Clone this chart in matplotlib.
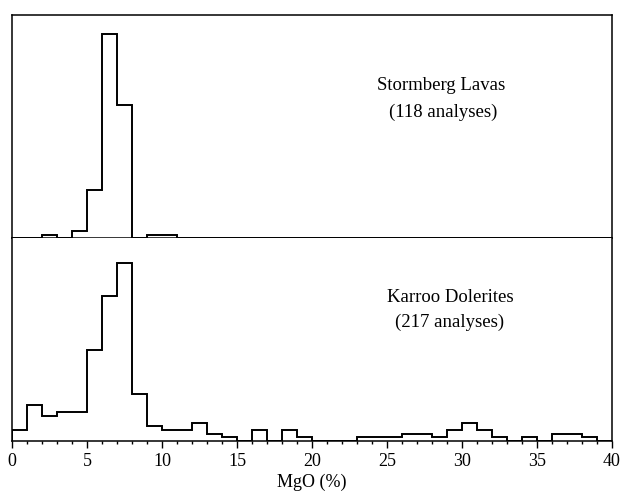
import matplotlib
matplotlib.use('Agg')
import matplotlib.pyplot as plt
from matplotlib.ticker import MultipleLocator
import numpy as np

plt.rcParams['font.family'] = ['Liberation Serif', 'DejaVu Serif']

# MgO histogram, 1 % bins from 0 to 40
edges = np.arange(0, 41, 1)

# Stormberg Lavas (118 analyses) - counts per bin
lavas_counts = [0, 0, 1, 0, 2, 14, 60, 39, 0, 1,
                1, 0, 0, 0, 0, 0, 0, 0, 0, 0,
                0, 0, 0, 0, 0, 0, 0, 0, 0, 0,
                0, 0, 0, 0, 0, 0, 0, 0, 0, 0]

# Karroo Dolerites (217 analyses) - counts per bin
dolerite_counts = [3, 10, 7, 8, 8, 25, 40, 49, 13, 4,
                   3, 3, 5, 2, 1, 0, 3, 0, 3, 1,
                   0, 0, 0, 1, 1, 1, 2, 2, 1, 3,
                   5, 3, 1, 0, 1, 0, 2, 2, 1, 0]

fig = plt.figure(figsize=(6.25, 4.93), dpi=100)

ax_top = fig.add_axes([0.0192, 0.5172, 0.96, 0.4523])
ax_bot = fig.add_axes([0.0192, 0.1055, 0.96, 0.4117])

for ax in (ax_top, ax_bot):
    ax.set_xlim(0, 40)
    for sp in ax.spines.values():
        sp.set_linewidth(1.1)
        sp.set_color('black')
    ax.set_yticks([])

# top panel
ax_top.stairs(lavas_counts, edges, color='black', linewidth=1.4, baseline=0)
ax_top.set_ylim(0, 65.6)
ax_top.set_xticks([])
ax_top.text(0.715, 0.682, 'Stormberg Lavas', transform=ax_top.transAxes,
            ha='center', va='center', fontsize=13.5)
ax_top.text(0.718, 0.563, '(118 analyses)', transform=ax_top.transAxes,
            ha='center', va='center', fontsize=13.5)

# bottom panel
ax_bot.stairs(dolerite_counts, edges, color='black', linewidth=1.4, baseline=0)
ax_bot.set_ylim(0, 55.9)
ax_bot.spines['top'].set_visible(False)
ax_bot.xaxis.set_major_locator(MultipleLocator(5))
ax_bot.xaxis.set_minor_locator(MultipleLocator(1))
ax_bot.tick_params(axis='x', which='major', direction='out', length=5, width=1,
                   pad=4, labelsize=13)
ax_bot.tick_params(axis='x', which='minor', direction='out', length=2.5, width=1)
ax_bot.text(0.73, 0.705, 'Karroo Dolerites', transform=ax_bot.transAxes,
            ha='center', va='center', fontsize=13.5)
ax_bot.text(0.73, 0.585, '(217 analyses)', transform=ax_bot.transAxes,
            ha='center', va='center', fontsize=13.5)
ax_bot.set_xlabel('MgO (%)', fontsize=13, labelpad=2)

fig.savefig('out.png', dpi=100)
